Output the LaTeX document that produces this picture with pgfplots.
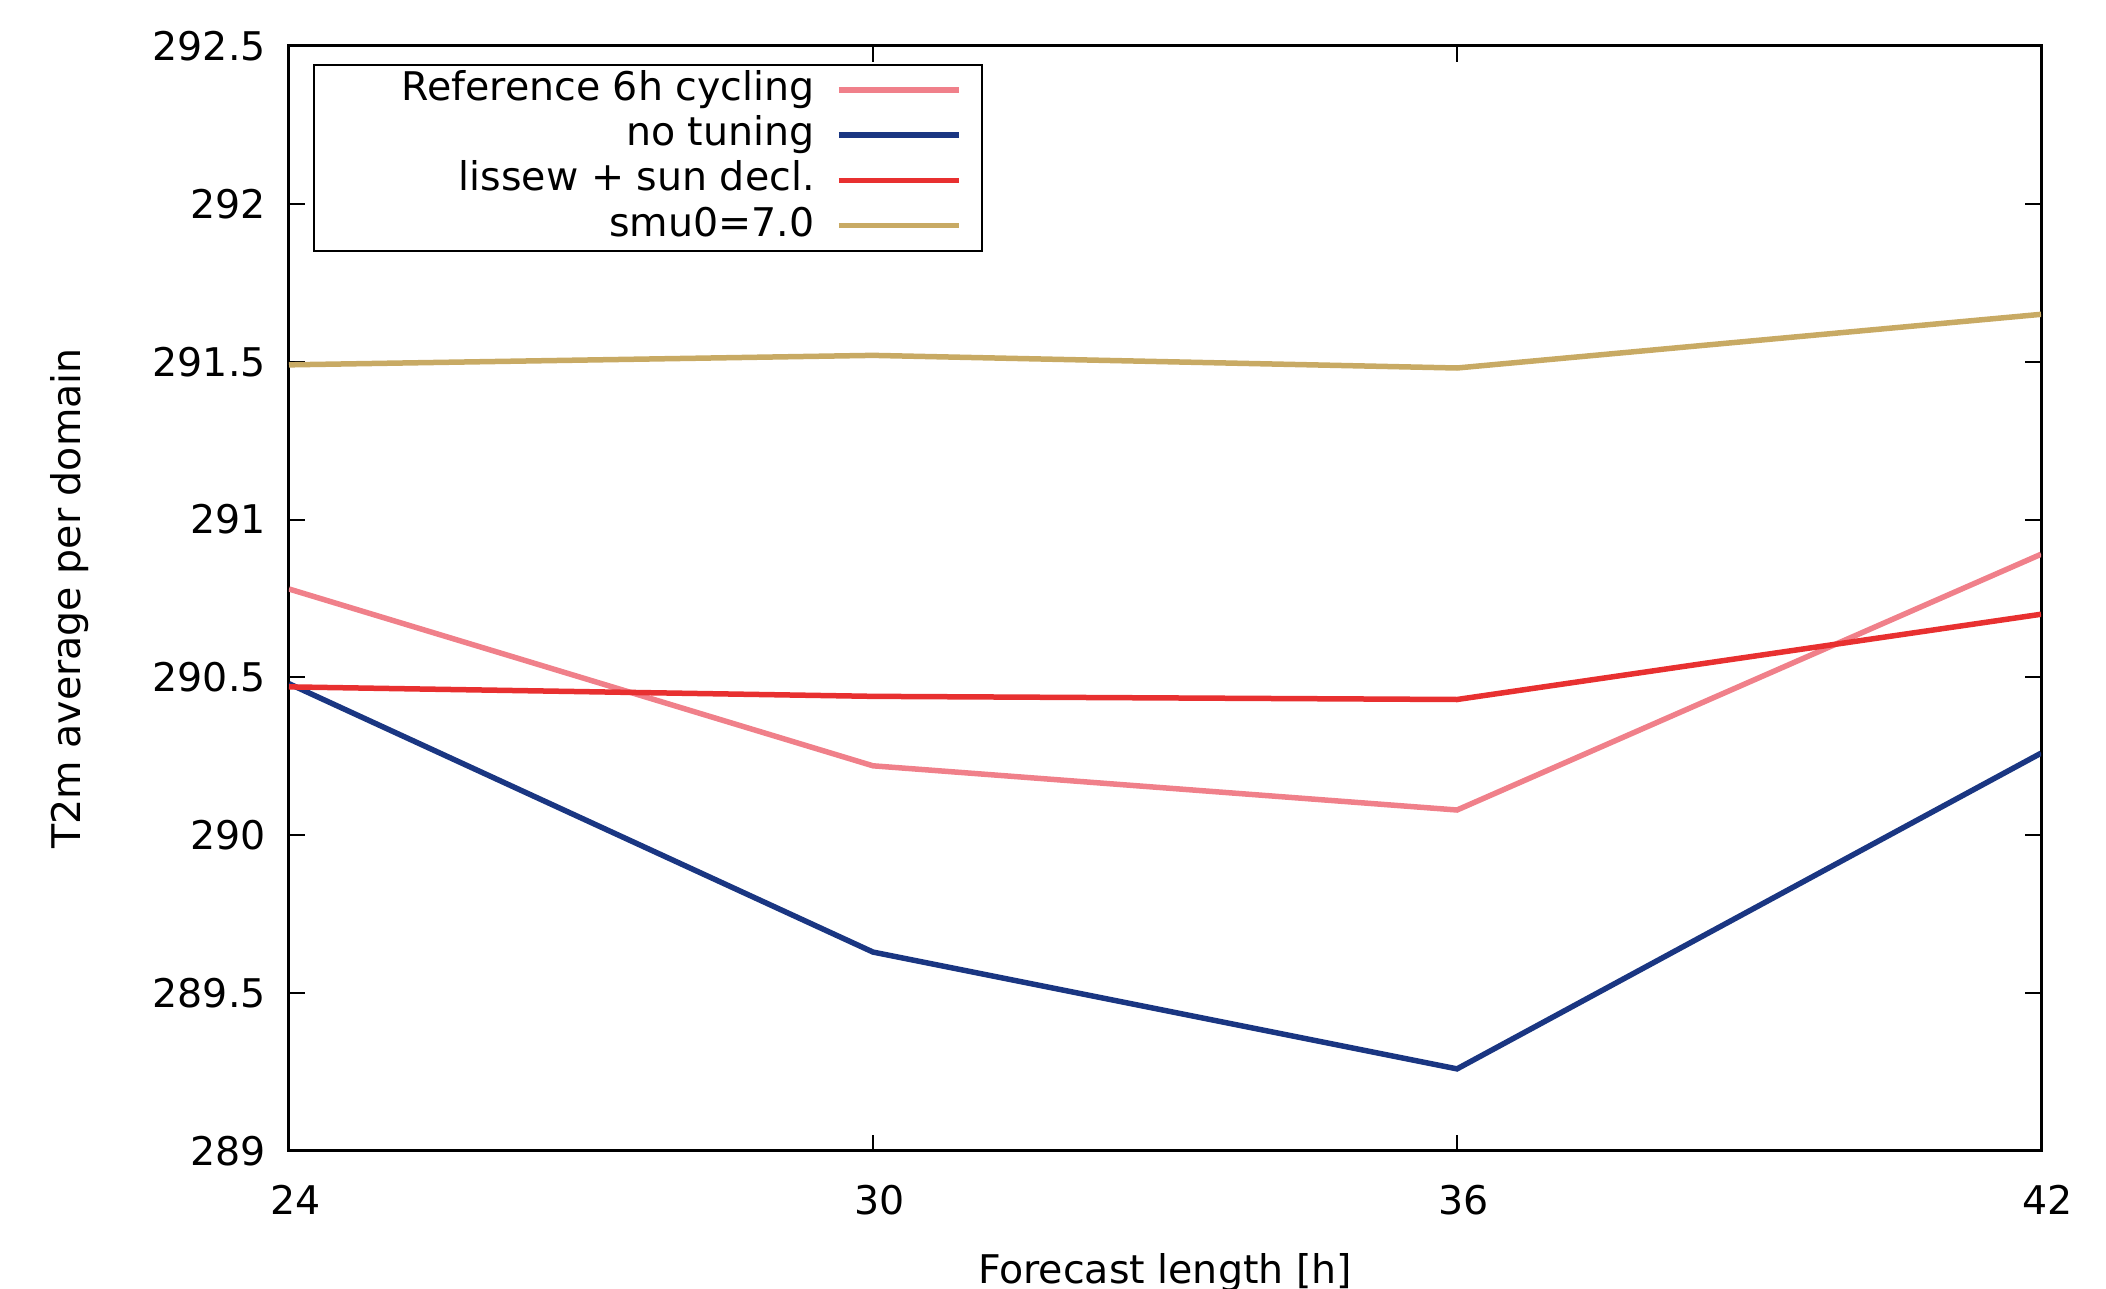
\documentclass[border=0pt]{standalone}
\usepackage{fontspec}
\setmainfont{DejaVu Sans}
\usepackage{pgfplots}
\pgfplotsset{compat=1.18}

\definecolor{refpink}{RGB}{240,128,138}
\definecolor{notune}{RGB}{26,54,130}
\definecolor{lisred}{RGB}{232,48,48}
\definecolor{smutan}{RGB}{200,170,100}

\begin{document}
\fontsize{7.9}{9.5}\selectfont
\begin{tikzpicture}
\begin{axis}[
  name=ax,
  scale only axis,
  width=350.4pt, height=221pt,
  xmin=24, xmax=42, ymin=289, ymax=292.5,
  xtick={24,30,36,42},
  ytick={289,289.5,290,290.5,291,291.5,292,292.5},
  yticklabels={289,289.5,290,290.5,291,291.5,292,292.5},
  tick align=inside,
  major tick length=3.2pt,
  axis line style={line width=0.6pt},
  tick style={line width=0.4pt, black},
  /pgf/number format/assume math mode=true,
  ticklabel style={font=\fontsize{7.9}{9.5}\selectfont},
  xticklabel style={yshift=-4pt, xshift=1.3pt},
  yticklabel style={xshift=-1.8pt},
  xlabel={Forecast length [h]},
  ylabel={T2m average per domain},
  label style={font=\fontsize{7.9}{9.5}\selectfont},
  xlabel style={at={(rel axis cs:0.5,0)}, yshift=-24.3pt, anchor=center},
  ylabel style={at={(rel axis cs:0,0.5)}, yshift=43.8pt, anchor=center},
  legend style={
    at={(4.8pt,221pt-3.6pt)}, anchor=north west,
    font=\fontsize{7.9}{9.5}\selectfont,
    draw=black, line width=0.4pt,
    inner xsep=4pt, inner ysep=0.6pt,
    row sep=0.25pt,
    nodes={inner sep=0.5pt, text height=6pt, text depth=1.8pt},
    /tikz/every odd column/.append style={column sep=3.8pt},
    /tikz/every even column/.append style={column sep=0pt},
  },
  legend cell align=right,
  legend plot pos=right,
  legend image code/.code={\draw[#1, line width=1.1pt] (0pt,0pt) -- (24pt,0pt);},
]
\addplot[refpink, line width=1.1pt] coordinates {(24,290.78) (30,290.22) (36,290.08) (42,290.89)};
\addlegendentry{\hspace*{13pt}Reference 6h cycling}
\addplot[notune, line width=1.1pt] coordinates {(24,290.48) (30,289.63) (36,289.26) (42,290.26)};
\addlegendentry{no tuning}
\addplot[lisred, line width=1.1pt] coordinates {(24,290.47) (30,290.44) (36,290.43) (42,290.70)};
\addlegendentry{lissew + sun decl.}
\addplot[smutan, line width=1.1pt] coordinates {(24,291.49) (30,291.52) (36,291.48) (42,291.65)};
\addlegendentry{smu0=7.0}
\end{axis}
\pgfresetboundingbox
\path (ax.south west) ++(-57.8pt,-27.6pt) coordinate (bl);
\path (ax.north east) ++(13pt,9.2pt) coordinate (tr);
\useasboundingbox (bl) rectangle (tr);
\end{tikzpicture}
\end{document}
